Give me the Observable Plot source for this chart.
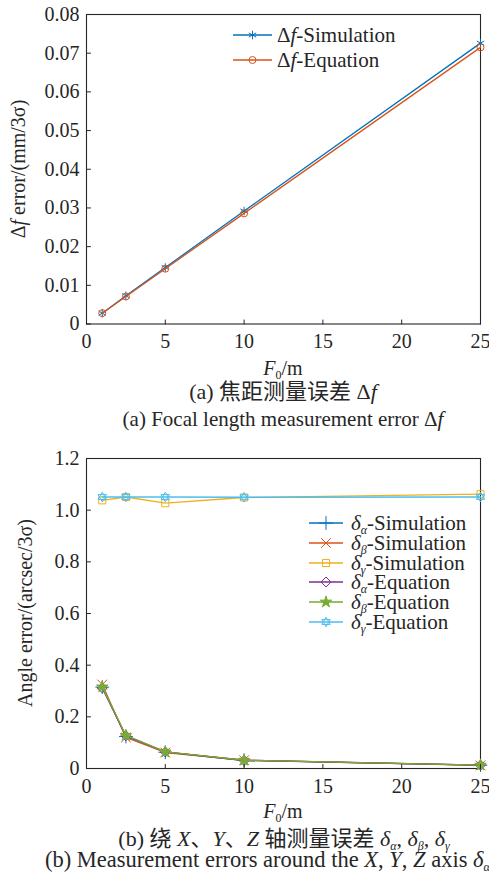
<!DOCTYPE html>
<html><head><meta charset="utf-8">
<script src="https://cdn.jsdelivr.net/npm/d3@7"></script>
<script src="https://cdn.jsdelivr.net/npm/@observablehq/plot@0.6"></script>
<style>
html,body{margin:0;padding:0;background:#fff;}
#root{position:relative;width:489px;height:881px;overflow:hidden;font-family:'Liberation Serif','Times New Roman',serif;color:#262626;background:#fff;}
.abs{position:absolute;white-space:nowrap;font-size:20px;line-height:20px;}
.cjk{font-family:'Liberation Serif','Noto Sans CJK SC',serif;}
sub{font-size:12px;line-height:0;vertical-align:-4px;}
.rot{transform:translate(-50%,-50%) rotate(-90deg);}
.ctr{transform:translateX(-50%);}
.big{font-size:21px;}
.cjkbig{font-size:22px;}
.bigger{font-size:22.5px;}
.leg{position:absolute;display:flex;align-items:center;height:20px;font-size:21px;line-height:20px;white-space:nowrap;}
svg.plot{position:absolute;left:0;}
svg.plot text{font-family:'Liberation Serif','Times New Roman',serif;}
</style></head><body><div id="root"></div>
<script>
// ---------- data ----------
const F0 = [1, 2.5, 5, 10, 25];
const dfSimulation = [0.0028, 0.0073, 0.0146, 0.0292, 0.0726];
const dfEquation   = [0.0028, 0.0071, 0.0143, 0.0286, 0.0715];

const alphaSimulation = [0.315, 0.124, 0.063, 0.032, 0.013];
const betaSimulation  = [0.325, 0.120, 0.062, 0.032, 0.012];
const gammaSimulation = [1.038, 1.051, 1.027, 1.049, 1.062];
const alphaEquation   = [0.312, 0.127, 0.064, 0.031, 0.013];
const betaEquation    = [0.316, 0.128, 0.064, 0.032, 0.013];
const gammaEquation   = [1.051, 1.051, 1.051, 1.050, 1.051];

const xTicks = [0, 5, 10, 15, 20, 25];
const topYTicks = [0, 0.01, 0.02, 0.03, 0.04, 0.05, 0.06, 0.07, 0.08];
const bottomYTicks = [0, 0.2, 0.4, 0.6, 0.8, 1.0, 1.2];

const topNames = ["Simulation", "Equation"];
const bottomGreek = ["α", "β", "γ", "α", "β", "γ"];
const bottomKinds = ["Simulation", "Simulation", "Simulation", "Equation", "Equation", "Equation"];

// ---------- styles ----------
const serif = "'Liberation Serif','Times New Roman',serif";
const hexagram = {
  draw(ctx, size) {
    const R = Math.sqrt(size / Math.PI) * 1.15;
    for (const off of [-Math.PI / 2, Math.PI / 2]) {
      for (let k = 0; k < 3; k++) {
        const a = off + k * 2 * Math.PI / 3;
        const px = R * Math.cos(a), py = R * Math.sin(a);
        if (k === 0) ctx.moveTo(px, py); else ctx.lineTo(px, py);
      }
      ctx.closePath();
    }
  }
};
const ink = "#262626";
const topStyles = [
  {color: "#0072BD", symbol: d3.symbolAsterisk, r: 4, fill: "none"},
  {color: "#D95319", symbol: d3.symbolCircle, r: 3.5, fill: "none"}
];
const bottomStyles = [
  {color: "#0072BD", symbol: d3.symbolPlus, r: 4.5, fill: "none"},
  {color: "#D95319", symbol: d3.symbolTimes, r: 4.5, fill: "none"},
  {color: "#EDB120", symbol: d3.symbolSquare2, r: 4.5, fill: "none"},
  {color: "#7E2F8E", symbol: d3.symbolDiamond2, r: 4.5, fill: "none"},
  {color: "#77AC30", symbol: d3.symbolStar, r: 3.6, fill: "#77AC30"},
  {color: "#4DBEEE", symbol: hexagram, r: 4.2, fill: "none"}
];

const tickShape = {draw(ctx, l) { ctx.moveTo(0, 0); ctx.lineTo(0, -l); }};

function makeChart(seriesValues, styles, opts) {
  const marks = [Plot.frame({stroke: ink, strokeWidth: 1.1})];
  seriesValues.forEach((vals, i) => {
    const st = styles[i];
    const rows = F0.map((x, j) => ({x, y: vals[j]}));
    marks.push(Plot.line(rows, {x: "x", y: "y", stroke: st.color, strokeWidth: 1.3}));
    marks.push(Plot.dot(rows, {x: "x", y: "y", symbol: st.symbol, r: st.r, stroke: st.color, fill: st.fill, strokeWidth: 1}));
  });
  marks.push(
    Plot.vector(xTicks, {x: d => d, frameAnchor: "bottom", length: 4, rotate: 0, anchor: "start", shape: tickShape, stroke: ink, strokeWidth: 1}),
    Plot.vector(opts.yTicks, {y: d => d, frameAnchor: "left", length: 4, rotate: 90, anchor: "start", shape: tickShape, stroke: ink, strokeWidth: 1}),
    Plot.axisX({ticks: xTicks, tickSize: 0, tickPadding: 10, label: null, tickFormat: d => String(d), fontFamily: serif, fontSize: 20}),
    Plot.axisY({ticks: opts.yTicks, tickSize: 0, tickPadding: 7, label: null, tickFormat: opts.yFormat, fontFamily: serif, fontSize: 20})
  );
  const svg = Plot.plot({
    width: 489, height: opts.height,
    marginLeft: 86, marginRight: 9, marginTop: opts.marginTop, marginBottom: opts.marginBottom,
    x: {domain: [0, 25]},
    y: {domain: opts.yDomain},
    style: "font-family:'Liberation Serif','Times New Roman',serif;font-size:20px;color:#262626;background:transparent;overflow:visible;",
    marks
  });
  svg.classList.add("plot");
  svg.style.top = opts.top + "px";
  return svg;
}

const root = document.getElementById("root");
root.appendChild(makeChart([dfSimulation, dfEquation], topStyles, {
  top: 0, height: 376, marginTop: 14, marginBottom: 52.5,
  yDomain: [0, 0.08], yTicks: topYTicks, yFormat: d => d === 0 ? "0" : d3.format(".2f")(d)
}));
root.appendChild(makeChart(
  [alphaSimulation, betaSimulation, gammaSimulation, alphaEquation, betaEquation, gammaEquation],
  bottomStyles, {
  top: 440, height: 376, marginTop: 18, marginBottom: 48,
  yDomain: [0, 1.2], yTicks: bottomYTicks, yFormat: d => d === 0 ? "0" : d3.format(".1f")(d)
}));

// ---------- text ----------
function text(html, x, y, cls) {
  const d = document.createElement("div");
  d.className = "abs " + (cls || "");
  d.style.left = x + "px"; d.style.top = y + "px";
  d.innerHTML = html;
  root.appendChild(d);
  return d;
}
text("Δ<i>f</i> error/(mm/3σ)", 18, 169, "rot");
text("Angle error/(arcsec/3σ)", 25, 613, "rot");
text("<i>F</i><sub>0</sub>/m", 283, 358, "ctr");
text("<i>F</i><sub>0</sub>/m", 283, 801, "ctr");
text("(a) 焦距测量误差 Δ<i>f</i>", 283, 382, "ctr cjk cjkbig");
text("(a) Focal length measurement error Δ<i>f</i>", 283, 409, "ctr big");
text("(b) 绕 <i>X</i>、<i>Y</i>、<i>Z</i> 轴测量误差 <i>δ<sub>α</sub></i>, <i>δ<sub>β</sub></i>, <i>δ<sub>γ</sub></i>", 284, 829, "ctr cjk cjkbig");
text("(b) Measurement errors around the <i>X</i>, <i>Y</i>, <i>Z</i> axis <i>δ<sub>α</sub></i>, <i>δ<sub>β</sub></i>, <i>δ<sub>γ</sub></i>", 45, 850, "bigger");

// ---------- legends ----------
function legend(labels, styles, {left, lineLen, gap, firstY, step}) {
  labels.forEach((lab, i) => {
    const st = styles[i];
    const row = document.createElement("div");
    row.className = "leg";
    row.style.left = left + "px";
    row.style.top = (firstY + i * step - 10) + "px";
    const s = d3.create("svg").attr("width", lineLen).attr("height", 20).style("overflow", "visible");
    s.append("line").attr("x1", 0).attr("x2", lineLen).attr("y1", 10).attr("y2", 10)
      .attr("stroke", st.color).attr("stroke-width", 1.3);
    s.append("path").attr("transform", `translate(${lineLen / 2},10)`)
      .attr("d", d3.symbol(st.symbol, st.r * st.r * Math.PI)())
      .attr("stroke", st.color).attr("fill", st.fill).attr("stroke-width", 1);
    row.appendChild(s.node());
    const t = document.createElement("span");
    t.style.marginLeft = gap + "px";
    t.innerHTML = lab;
    row.appendChild(t);
    root.appendChild(row);
  });
}
legend(topNames.map(n => `Δ<i>f</i>-${n}`), topStyles, {left: 233, lineLen: 39, gap: 5, firstY: 35, step: 25});
legend(bottomGreek.map((g, i) => `<i>δ</i><sub><i>${g}</i></sub>-${bottomKinds[i]}`), bottomStyles,
  {left: 309, lineLen: 34, gap: 8, firstY: 523, step: 19.8});
</script></body></html>
